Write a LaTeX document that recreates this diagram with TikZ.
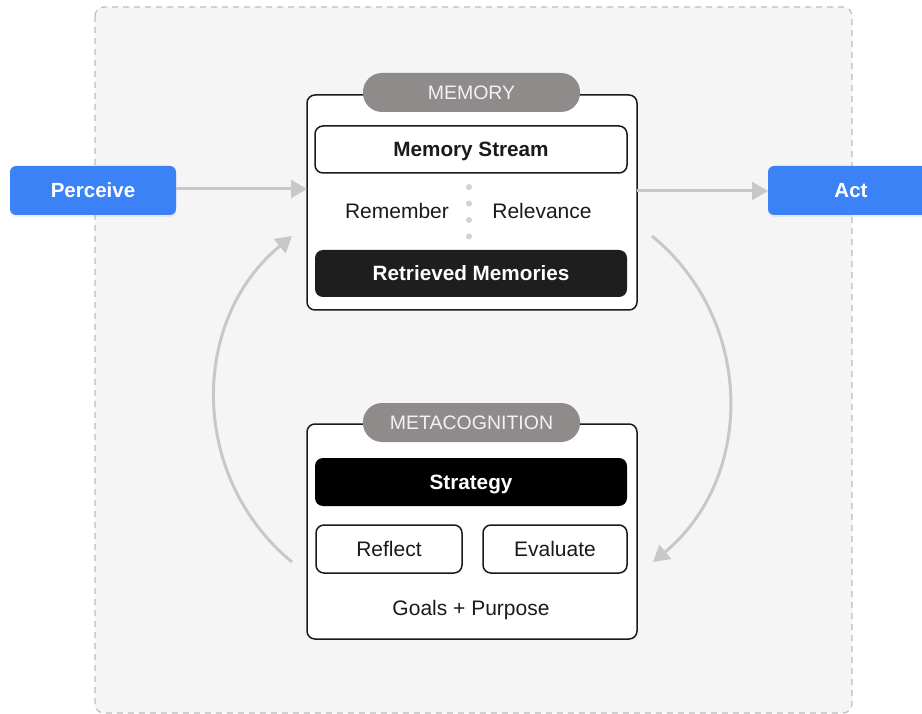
\documentclass[tikz,border=0pt]{standalone}
\usepackage{fontspec}
\setmainfont{Liberation Sans}
\usetikzlibrary{arrows.meta,shadows}
\definecolor{bluebtn}{HTML}{3B82F6}
\definecolor{bgpanel}{HTML}{F5F5F5}
\definecolor{dashgray}{HTML}{BDBDBD}
\definecolor{arrowgray}{HTML}{C8C8C8}
\definecolor{pillgray}{HTML}{8F8B8B}
\definecolor{pilltext}{HTML}{F2F2F2}
\definecolor{ink}{HTML}{1A1A1A}
\definecolor{darkbox}{HTML}{1E1E1E}
\definecolor{dotgray}{HTML}{D2D2D2}
\tikzset{
  capc/.style={text height=14.6pt, text depth=0pt},
  bluebox/.style={draw=none, fill=bluebtn, rounded corners=6pt, minimum width=166pt, minimum height=49pt,
    inner sep=0pt, outer sep=0pt, text=white, font=\fontsize{20.5}{24}\selectfont\bfseries, capc,
    drop shadow={opacity=0.12, shadow xshift=0pt, shadow yshift=-2pt}},
  panel/.style={draw=ink, line width=1.5pt, fill=white, rounded corners=8pt, minimum width=330pt,
    minimum height=215pt, inner sep=0pt, outer sep=0pt},
  pill/.style={draw=none, fill=pillgray, rounded corners=19pt, minimum width=217pt, minimum height=39pt,
    inner sep=0pt, text=pilltext, font=\fontsize{19.5}{23}\selectfont, text height=14pt, text depth=0pt},
  whitebox/.style={draw=ink, line width=1.5pt, fill=white, rounded corners=8pt, minimum height=47pt,
    inner sep=0pt, text=ink, capc},
  blackbox/.style={draw=none, rounded corners=8pt, minimum height=47pt, minimum width=312pt,
    inner sep=0pt, text=white, font=\fontsize{20.7}{24}\selectfont\bfseries, capc},
  plain/.style={text=ink, font=\fontsize{21}{24}\selectfont, inner sep=0pt, capc},
  flow/.style={draw=arrowgray, line width=3pt, -{Triangle[length=16pt,width=18pt]}},
  sepdot/.style={circle, fill=dotgray, draw=none, minimum size=6pt, inner sep=0pt}
}
\begin{document}
\begin{tikzpicture}[x=1pt,y=-1pt]
\useasboundingbox (0,0) rectangle (922,714);
\begin{scope}
\clip (0,0) rectangle (922,714);
% outer panel
\draw[dashgray, dashed, dash pattern=on 6pt off 5pt, line width=1.2pt, fill=bgpanel, rounded corners=9pt]
  (95,7) rectangle (852,713);

% memory panel
\node[panel] (mem) at (472,202.5) {};
\node[pill] (memlbl) at (471.5,92.5) {MEMORY};
\node[whitebox, minimum width=312pt, font=\fontsize{20.7}{24}\selectfont\bfseries] (stream) at (471,149.5) {Memory Stream};
\node[plain] (rem) at (397,211) {Remember};
\node[plain] (rel) at (542,211) {Relevance};
\node[sepdot] (d1) at (469,187) {};
\node[sepdot] (d2) at (469,203.5) {};
\node[sepdot] (d3) at (469,220) {};
\node[sepdot] (d4) at (469,236.5) {};
\node[blackbox, fill=darkbox] (retr) at (471,273.5) {Retrieved Memories};

% metacognition panel
\node[panel] (meta) at (472,531.5) {};
\node[pill] (metalbl) at (471.5,422.5) {METACOGNITION};
\node[blackbox, fill=black, minimum height=48pt] (strat) at (471,482) {Strategy};
\node[whitebox, minimum width=146pt, minimum height=48pt, font=\fontsize{21}{24}\selectfont] (refl) at (389,549) {Reflect};
\node[whitebox, minimum width=144pt, minimum height=48pt, font=\fontsize{21}{24}\selectfont] (eval) at (555,549) {Evaluate};
\node[plain] (goals) at (471,608) {Goals + Purpose};

% perceive / act
\node[bluebox] (perc) at (93,190.5) {Perceive};
\node[bluebox] (act) at (851,190.5) {Act};

% connectors
\draw[flow] (perc.east |- 0,189) -- (mem.west |- 0,189);
\draw[flow] (mem.east |- 0,191) -- (act.west |- 0,191);

\coordinate (lstart) at (292,562);
\coordinate (lend) at (292,236);
\coordinate (rstart) at (652,236);
\coordinate (rend) at (653,562);
\draw[flow] (lstart) .. controls (189.3,477.5) and (189.3,320.5) .. (lend);
\draw[flow] (rstart) .. controls (755,320.5) and (755,477.5) .. (rend);
\end{scope}
\end{tikzpicture}
\end{document}
